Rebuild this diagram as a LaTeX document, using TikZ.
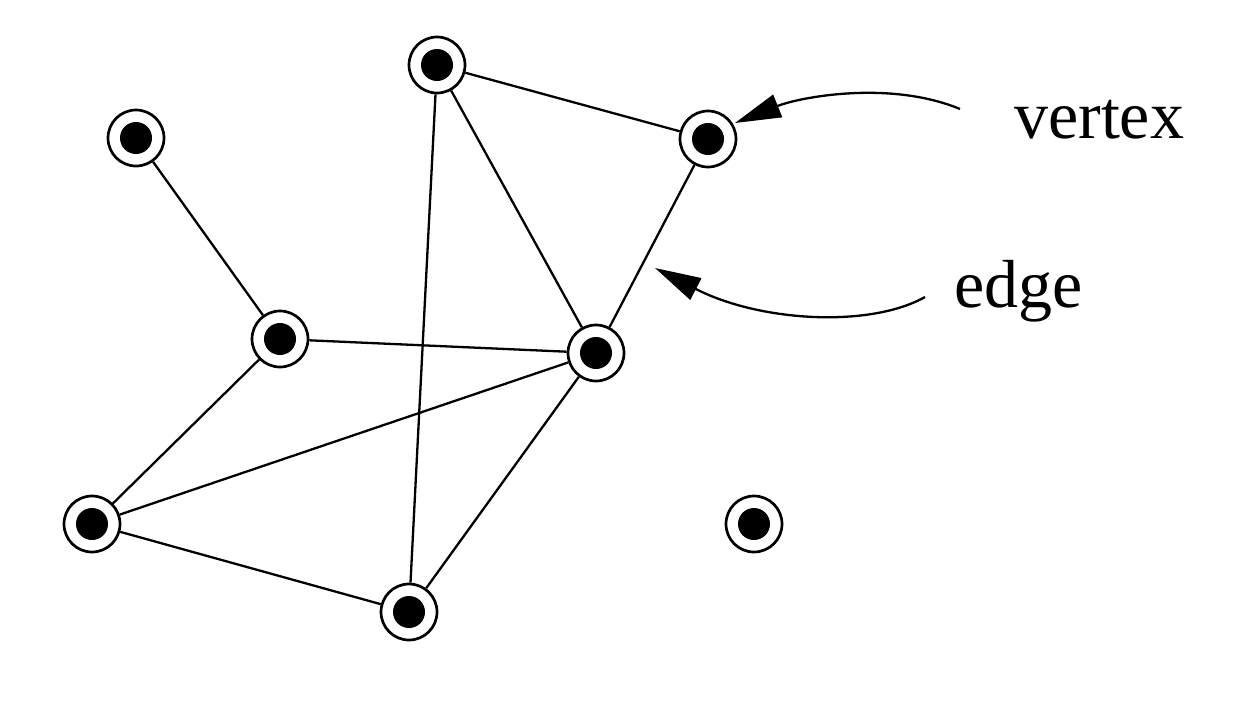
\documentclass[tikz,border=0pt]{standalone}
\usepackage{fontspec}
\setmainfont{Liberation Serif}
\usetikzlibrary{arrows.meta}
\begin{document}
\begin{tikzpicture}[x=1pt,y=-1pt,
  vtx/.style={circle,draw,line width=2.7pt,minimum size=56pt,inner sep=0pt,fill=white,
    path picture={\fill[black] (path picture bounding box.center) circle (16pt);}},
  edgeline/.style={line width=2.3pt},
  pointer/.style={line width=2.3pt,-{Triangle[length=46pt,width=24pt]}},
  lbl/.style={anchor=base west,inner sep=0pt,font=\fontsize{68}{80}\selectfont}]
\useasboundingbox (0,0) rectangle (1233,707);
\node[vtx] (A) at (437,65) {};
\node[vtx] (B) at (708,139) {};
\node[vtx] (C) at (136,138) {};
\node[vtx] (D) at (280,339) {};
\node[vtx] (E) at (596,353) {};
\node[vtx] (F) at (92,524) {};
\node[vtx] (G) at (409,612) {};
\node[vtx] (H) at (754,524) {};
\draw[edgeline] (A) -- (B);
\draw[edgeline] (A) -- (G);
\draw[edgeline] (A) -- (E);
\draw[edgeline] (B) -- (E);
\draw[edgeline] (C) -- (D);
\draw[edgeline] (D) -- (E);
\draw[edgeline] (D) -- (F);
\draw[edgeline] (F) -- (E);
\draw[edgeline] (F) -- (G);
\draw[edgeline] (G) -- (E);
\node[lbl] (vlabel) at (1014,138) {vertex};
\node[lbl] (elabel) at (954,307) {edge};
\coordinate (vs) at (960,109);
\coordinate (vt) at (735,123);
\coordinate (es) at (925,297);
\coordinate (et) at (655,268);
\draw[pointer] (vs) .. controls (890,80) and (800,97) .. (vt);
\draw[pointer] (es) .. controls (870,328) and (760,322) .. (et);
\end{tikzpicture}
\end{document}
